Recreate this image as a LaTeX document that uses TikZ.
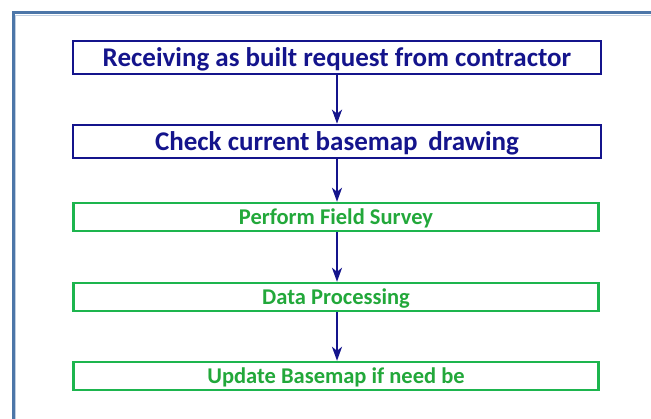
\documentclass[tikz,border=0pt]{standalone}
\usepackage{fontspec}
\setmainfont{Carlito}
\usetikzlibrary{arrows.meta}
\definecolor{navy}{HTML}{14148C}
\definecolor{boxgreen}{HTML}{1DB54E}
\definecolor{txtgreen}{HTML}{22A83A}
\definecolor{frameblue}{HTML}{4C76A8}
\tikzset{
  bluebox/.style={draw=navy, line width=2.6pt, minimum width=528pt, minimum height=33pt,
    inner sep=0pt, text=navy, text height=19pt, text depth=1pt,
    font=\fontsize{27}{30}\selectfont\bfseries},
  greenbox/.style={draw=boxgreen, line width=2.4pt, minimum width=525pt, minimum height=28pt,
    inner sep=0pt, text=txtgreen, text height=16pt, text depth=1pt,
    font=\fontsize{22.5}{26}\selectfont\bfseries},
  flow/.style={draw=navy, line width=2.2pt, -{Stealth[length=14pt,width=10pt,inset=4pt]}}
}
\begin{document}
\begin{tikzpicture}[x=1pt,y=-1pt]
  \useasboundingbox (0,0) rectangle (651,419);
  \begin{scope}
    \clip (0,0) rectangle (651,419);
    % outer frame, open towards the right and bottom
    \draw[frameblue, line width=3pt] (13,440) -- (13,13) -- (670,13);
    \draw[frameblue!35, line width=1pt] (15.5,440) -- (15.5,15.5) -- (670,15.5);
  \end{scope}

  \node[bluebox] (recv) at (337,57.5) {Receiving as built request from contractor};
  \node[bluebox] (check) at (337,141.5) {Check current basemap\, drawing};
  \node[greenbox] (survey) at (336,217) {Perform Field Survey};
  \node[greenbox] (proc) at (336,297) {Data Processing};
  \node[greenbox] (update) at (336,376) {Update Basemap if need be};

  \draw[flow] (recv.south -| 337,0) -- (check.north -| 337,0);
  \draw[flow] (check.south -| 337,0) -- (survey.north -| 337,0);
  \draw[flow] (survey.south -| 337,0) -- (proc.north -| 337,0);
  \draw[flow] (proc.south -| 337,0) -- (update.north -| 337,0);
\end{tikzpicture}
\end{document}
